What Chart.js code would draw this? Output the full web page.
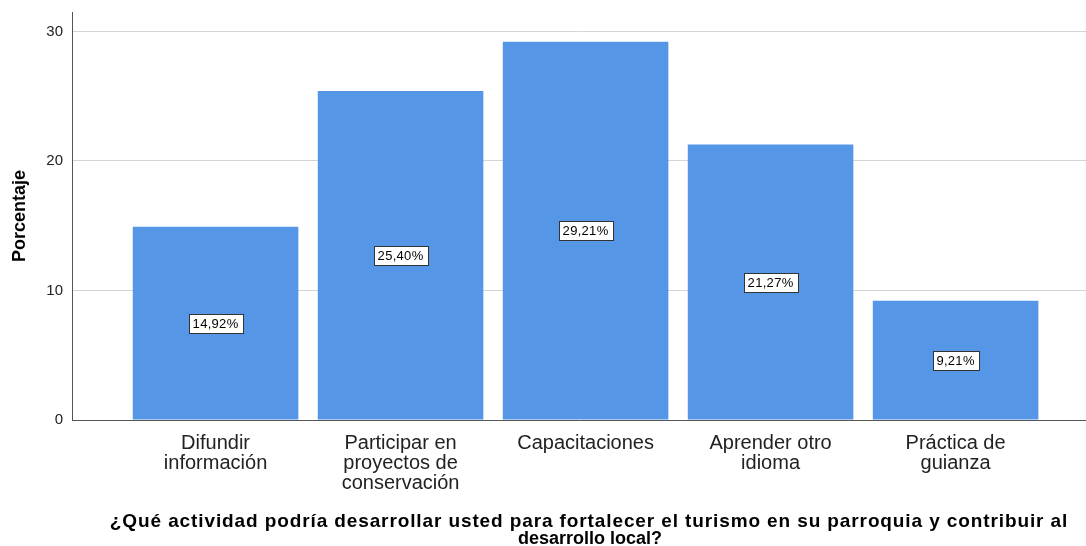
<!DOCTYPE html>
<html>
<head>
<meta charset="utf-8">
<script src="https://cdn.jsdelivr.net/npm/chart.js@4/dist/chart.umd.min.js"></script>
<style>
  html, body { margin: 0; padding: 0; background: #fff; }
  #wrap { width: 1086px; height: 546px; }
</style>
</head>
<body>
<div id="wrap"><canvas id="chart" width="1086" height="546"></canvas></div>
<script>
// Chart data
const categories = [
  ['Difundir', 'información'],
  ['Participar en', 'proyectos de', 'conservación'],
  ['Capacitaciones'],
  ['Aprender otro', 'idioma'],
  ['Práctica de', 'guianza']
];
const percentages = [14.92, 25.40, 29.21, 21.27, 9.21];
const yTicks = [0, 10, 20, 30];
const xTitle = ['¿Qué actividad podría desarrollar usted para fortalecer el turismo en su parroquia y contribuir al', 'desarrollo local?'];

const barColor = 'rgb(85, 150, 230)';
const fontFamily = '"Liberation Sans", Arial, sans-serif';

// white boxes with the percentage in the middle of each bar
const valueBoxes = {
  id: 'valueBoxes',
  afterDatasetsDraw(chart) {
    const ctx = chart.ctx;
    const meta = chart.getDatasetMeta(0);
    ctx.save();
    ctx.font = '13px ' + fontFamily;
    ctx.letterSpacing = '0.3px';
    ctx.textAlign = 'center';
    ctx.textBaseline = 'middle';
    meta.data.forEach((bar, i) => {
      const text = percentages[i].toFixed(2).replace('.', ',') + '%';
      const mid = (bar.y + bar.base) / 2;
      const w = Math.round(ctx.measureText(text).width + 8);
      const h = 19;
      const x0 = Math.round(bar.x - w / 2) + 0.5;
      const y0 = Math.round(mid - h / 2) + 0.5;
      ctx.fillStyle = '#fff';
      ctx.fillRect(x0, y0, w, h);
      ctx.strokeStyle = '#333';
      ctx.lineWidth = 1;
      ctx.strokeRect(x0, y0, w, h);
      ctx.fillStyle = '#000';
      ctx.fillText(text, bar.x, mid + 1);
    });
    ctx.restore();
  }
};

// bottom title, two centred bold lines
const bottomTitle = {
  id: 'bottomTitle',
  afterDraw(chart) {
    const ctx = chart.ctx;
    ctx.save();
    ctx.fillStyle = '#000';
    ctx.textAlign = 'center';
    ctx.textBaseline = 'alphabetic';
    ctx.font = 'bold 18px ' + fontFamily;
    ctx.fillText(xTitle[1], 590, 543.5);
    ctx.font = 'bold 19px ' + fontFamily;
    const w = ctx.measureText(xTitle[0]).width;
    ctx.letterSpacing = Math.max(0, (958 - w) / xTitle[0].length).toFixed(2) + 'px';
    ctx.fillText(xTitle[0], 589, 527);
    ctx.restore();
  }
};

new Chart(document.getElementById('chart'), {
  type: 'bar',
  data: {
    datasets: [{
      data: percentages.map((v, i) => ({ x: i, y: v })),
      backgroundColor: barColor,
      borderWidth: 0,
      barPercentage: 0.895,
      categoryPercentage: 1
    }]
  },
  options: {
    responsive: false,
    animation: false,
    layout: { padding: { top: 6, right: 0, left: 0, bottom: 0 } },
    plugins: {
      legend: { display: false },
      tooltip: { enabled: false }
    },
    scales: {
      x: {
        type: 'linear',
        offset: false,
        min: -0.776,
        max: 4.705,
        afterBuildTicks: scale => { scale.ticks = categories.map((c, i) => ({ value: i })); },
        afterFit: scale => { scale.height = 126; },
        ticks: {
          callback: (v) => categories[v],
          maxRotation: 0,
          autoSkip: false,
          padding: 13,
          color: '#222',
          font: { family: fontFamily, size: 20, lineHeight: 1.0 }
        },
        grid: { display: false, drawTicks: false, offset: false },
        border: { display: true, color: '#555', width: 1 }
      },
      y: {
        min: 0,
        max: 31.5,
        afterBuildTicks: scale => { scale.ticks = yTicks.map(v => ({ value: v })); },
        afterFit: scale => { scale.width = 72; },
        ticks: {
          padding: 9,
          color: '#222',
          font: { family: fontFamily, size: 15, lineHeight: 0.4 }
        },
        grid: { color: '#d4d4d4', drawTicks: false },
        border: { display: true, color: '#555', width: 1 },
        title: {
          display: true,
          text: 'Porcentaje',
          color: '#000',
          font: { family: fontFamily, size: 18, weight: 'bold' },
          padding: { top: 9, bottom: 0 }
        }
      }
    }
  },
  plugins: [valueBoxes, bottomTitle]
});
</script>
</body>
</html>
